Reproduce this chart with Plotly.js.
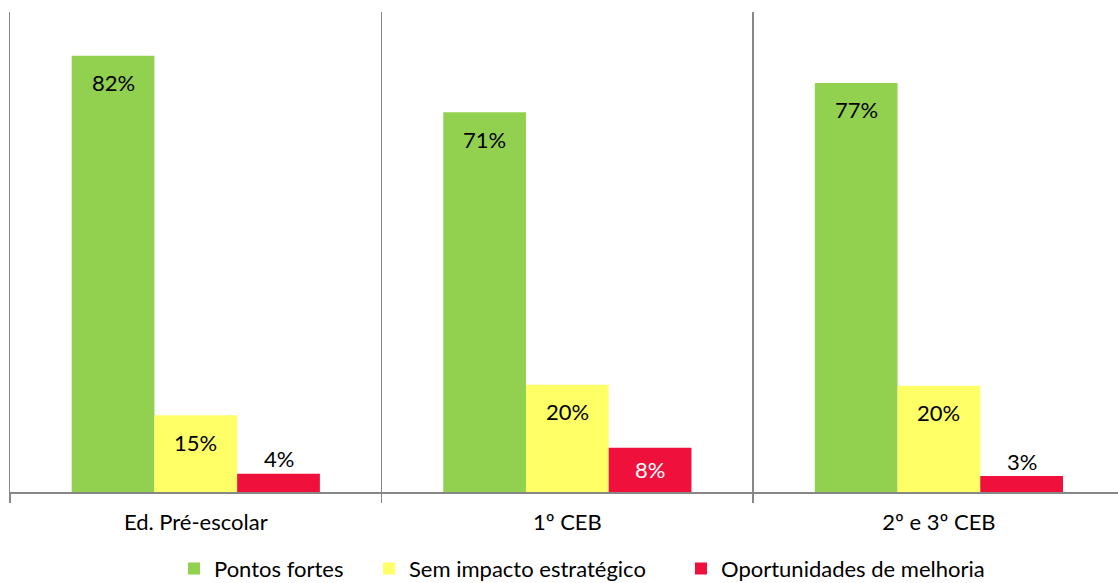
<!DOCTYPE html>
<html>
<head>
<meta charset="utf-8">
<script src="https://cdn.plot.ly/plotly-3.0.1.min.js"></script>
<style>html,body{margin:0;padding:0;background:#fff;}#chart{width:1118px;height:583px;}</style>
</head>
<body>
<div id="chart"></div>
<script>
// ---- data ----
const categories = ['Ed. Pré-escolar', '1º CEB', '2º e 3º CEB'];
const seriesNames = ['Pontos fortes', 'Sem impacto estratégico', 'Oportunidades de melhoria'];
const pontosFortes = [81.8, 71.2, 76.7];
const semImpacto = [14.4, 20.1, 19.9];
const oportunidades = [3.4, 8.3, 3.0];
const pontosFortesLabels = ['82%', '71%', '77%'];
const semImpactoLabels = ['15%', '20%', '20%'];
const oportunidadesLabels = ['4%', '8%', '3%'];

// ---- style ----
const colors = ['#92D050', '#FFFF66', '#F0103C'];
const FONT = 'Lato, "Open Sans", sans-serif';
const FS = 22;
const bargap = 0.332;
const labelPos = [['in','in','in'], ['in','in','in'], ['out','mid','out']];
const labelColor = [['#000','#000','#000'], ['#000','#000','#000'], ['#000','#fff','#000']];

const values = [pontosFortes, semImpacto, oportunidades];
const labels = [pontosFortesLabels, semImpactoLabels, oportunidadesLabels];
const legendNames = ['legend', 'legend2', 'legend3'];

const traces = values.map((v, s) => ({
  type: 'bar',
  name: seriesNames[s],
  x: categories,
  y: v,
  marker: {color: colors[s], line: {width: 0}},
  legend: legendNames[s],
  hoverinfo: 'skip'
}));

const barW = (1 - bargap) / 3;
const annotations = [];
values.forEach((v, s) => {
  v.forEach((val, i) => {
    const pos = labelPos[s][i];
    annotations.push({
      xref: 'x', yref: 'y',
      x: i + (s - 1) * barW,
      y: pos === 'mid' ? val / 2 : val,
      yshift: pos === 'in' ? -27 : (pos === 'out' ? 15 : 0),
      text: labels[s][i],
      showarrow: false,
      xanchor: 'center', yanchor: 'middle',
      font: {family: FONT, size: FS, color: labelColor[s][i]}
    });
  });
});

const legendBase = {
  orientation: 'h', xanchor: 'left', yanchor: 'middle', y: -0.160,
  font: {family: FONT, size: FS, color: '#000'},
  bgcolor: 'rgba(0,0,0,0)', borderwidth: 0, itemclick: false
};
const P0 = 10, PW = 1108;

const layout = {
  width: 1118, height: 583,
  margin: {l: 10, r: 0, t: 12, b: 91, autoexpand: false},
  paper_bgcolor: '#fff', plot_bgcolor: '#fff',
  barmode: 'group', bargap: bargap, bargroupgap: 0,
  font: {family: FONT, size: FS, color: '#000'},
  xaxis: {
    type: 'category',
    range: [-0.5, 2.482],
    tickson: 'boundaries',
    ticks: 'outside', ticklen: 9, tickwidth: 1.5, tickcolor: '#878787',
    ticklabelstandoff: 10,
    showgrid: true, gridcolor: '#878787', gridwidth: 1.5,
    showline: true, linecolor: '#878787', linewidth: 1.5,
    tickfont: {family: FONT, size: FS, color: '#000'},
    fixedrange: true
  },
  yaxis: {
    range: [0, 90],
    showline: true, linecolor: '#878787', linewidth: 1.5,
    showgrid: false, zeroline: false, showticklabels: false, ticks: '',
    fixedrange: true
  },
  showlegend: true,
  legend: Object.assign({}, legendBase, {x: (174 - P0) / PW}),
  legend2: Object.assign({}, legendBase, {x: (369 - P0) / PW}),
  legend3: Object.assign({}, legendBase, {x: (681 - P0) / PW}),
  annotations: annotations
};

Plotly.newPlot('chart', traces, layout, {displayModeBar: false, staticPlot: true});
</script>
</body>
</html>
